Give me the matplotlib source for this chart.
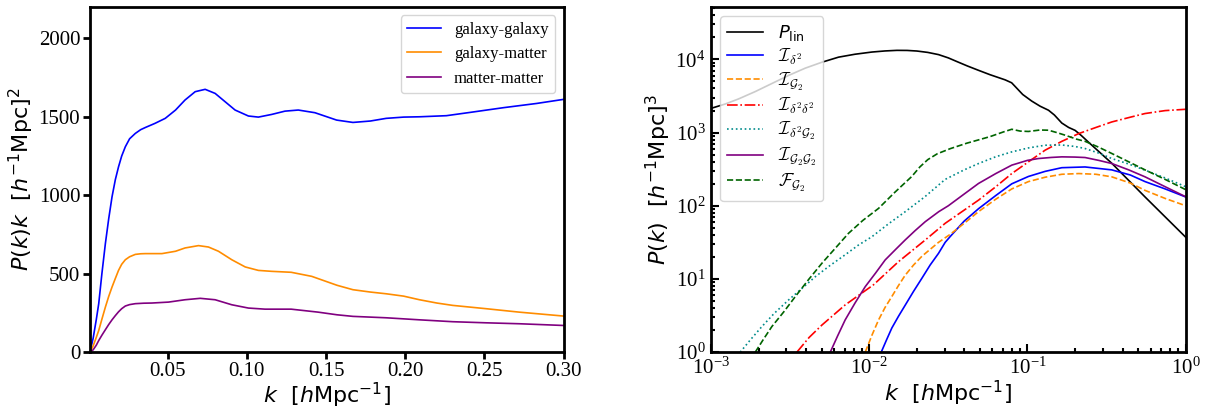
import numpy as np
import matplotlib
matplotlib.use("Agg")
import matplotlib.pyplot as plt

plt.rcParams['font.family'] = 'serif'
plt.rcParams['font.serif'] = ['Liberation Serif', 'DejaVu Serif']
plt.rcParams['mathtext.fontset'] = 'dejavusans'

# left panel: P(k)k, k in h/Mpc
k_gg = [0.001, 0.003, 0.005, 0.0065, 0.0085, 0.0107, 0.0128, 0.0149, 0.017, 0.019,
        0.021, 0.0233, 0.026, 0.0296, 0.033, 0.036, 0.042, 0.0485, 0.055, 0.061,
        0.0674, 0.0737, 0.080, 0.0863, 0.0926, 0.101, 0.1073, 0.1157, 0.1241, 0.1325,
        0.143, 0.1567, 0.167, 0.178, 0.188, 0.199, 0.209, 0.226, 0.241, 0.262,
        0.283, 0.30]
pk_gg = [0, 90, 210, 309, 500, 692, 850, 990, 1100, 1181,
         1250, 1309, 1360, 1394, 1418, 1432, 1458, 1490, 1543, 1607,
         1660, 1675, 1649, 1596, 1543, 1505, 1498, 1515, 1536, 1543,
         1526, 1479, 1464, 1473, 1490, 1498, 1500, 1507, 1528, 1558,
         1585, 1611]

k_gm = [0.001, 0.003, 0.005, 0.0065, 0.0085, 0.0107, 0.0128, 0.0149, 0.017, 0.019,
        0.021, 0.0233, 0.026, 0.0296, 0.033, 0.036, 0.0464, 0.055, 0.061, 0.0695,
        0.0758, 0.0821, 0.0905, 0.099, 0.1073, 0.1157, 0.128, 0.141, 0.157, 0.167,
        0.178, 0.188, 0.199, 0.209, 0.22, 0.23, 0.251, 0.272, 0.30]
pk_gm = [0, 40, 95, 138, 210, 287, 355, 415, 470, 521,
         560, 589, 608, 623, 627, 628, 628, 643, 664, 679,
         670, 643, 589, 543, 521, 515, 509, 483, 426, 398,
         383, 372, 357, 334, 313, 298, 277, 255, 230]

k_mm = [0.001, 0.003, 0.005, 0.0065, 0.0085, 0.0107, 0.0128, 0.0149, 0.017, 0.019,
        0.021, 0.0233, 0.026, 0.0296, 0.035, 0.040, 0.0506, 0.061, 0.0706, 0.080,
        0.0905, 0.101, 0.1115, 0.128, 0.145, 0.157, 0.167, 0.188, 0.209, 0.23,
        0.251, 0.272, 0.30]
pk_mm = [0, 15, 45, 74, 108, 143, 176, 206, 233, 257,
         277, 294, 303, 309, 312, 313, 319, 334, 343, 334,
         302, 281, 274, 274, 255, 238, 228, 219, 206, 194,
         187, 181, 170]

# right panel, read as log10(k), log10(P)
lk_lin = [-3.0, -2.91, -2.825, -2.72, -2.615, -2.51, -2.404, -2.3, -2.194, -2.09,
          -1.983, -1.9, -1.825, -1.76, -1.699, -1.63, -1.562, -1.5, -1.446, -1.38,
          -1.309, -1.236, -1.141, -1.10, -1.078, -1.03, -0.973, -0.920, -0.867, -0.83,
          -0.783, -0.74, -0.699, -0.66, -0.615, -0.467, -0.257, 0.0]
lp_lin = [3.33, 3.39, 3.46, 3.56, 3.67, 3.78, 3.88, 3.96, 4.03, 4.07,
          4.10, 4.115, 4.123, 4.122, 4.114, 4.095, 4.065, 4.02, 3.97, 3.91,
          3.85, 3.79, 3.72, 3.68, 3.63, 3.52, 3.43, 3.36, 3.305, 3.24,
          3.13, 3.07, 3.03, 2.96, 2.87, 2.58, 2.12, 1.57]

lk_d2 = [-1.924, -1.89, -1.857, -1.815, -1.773, -1.72, -1.667, -1.615, -1.562, -1.52,
         -1.488, -1.40, -1.309, -1.20, -1.099, -0.994, -0.888, -0.783, -0.636, -0.467,
         -0.35, -0.257, -0.13, 0.0]
lp_d2 = [0.0, 0.17, 0.33, 0.49, 0.64, 0.83, 1.01, 1.19, 1.35, 1.50,
         1.58, 1.79, 1.96, 2.14, 2.30, 2.40, 2.47, 2.52, 2.53, 2.49,
         2.42, 2.33, 2.23, 2.12]

lk_g2 = [-2.025, -1.983, -1.941, -1.90, -1.857, -1.815, -1.773, -1.72, -1.667, -1.562,
         -1.488, -1.40, -1.309, -1.20, -1.099, -0.994, -0.888, -0.783, -0.676, -0.567,
         -0.467, -0.35, -0.257, -0.13, 0.0]
lp_g2 = [0.0, 0.23, 0.44, 0.61, 0.76, 0.91, 1.05, 1.19, 1.31, 1.50,
         1.61, 1.76, 1.92, 2.09, 2.23, 2.33, 2.39, 2.43, 2.44, 2.43,
         2.395, 2.31, 2.21, 2.10, 2.0]

lk_d2d2 = [-2.457, -2.38, -2.299, -2.152, -1.973, -1.815, -1.646, -1.52, -1.309, -1.2,
           -1.099, -0.994, -0.888, -0.783, -0.676, -0.567, -0.467, -0.35, -0.257, -0.13,
           0.0]
lp_d2d2 = [0.0, 0.2, 0.37, 0.645, 0.92, 1.236, 1.532, 1.76, 2.077, 2.26,
           2.44, 2.60, 2.76, 2.88, 2.986, 3.07, 3.145, 3.21, 3.26, 3.30,
           3.318]

lk_d2g2 = [-2.815, -2.75, -2.678, -2.6, -2.509, -2.42, -2.341, -2.25, -2.152, -2.07,
           -1.983, -1.88, -1.773, -1.65, -1.52, -1.40, -1.309, -1.2, -1.099, -0.994,
           -0.888, -0.783, -0.70, -0.636, -0.55, -0.467, -0.36, -0.257, -0.13, 0.0]
lp_d2g2 = [0.0, 0.17, 0.35, 0.53, 0.714, 0.88, 1.03, 1.18, 1.33, 1.46,
           1.577, 1.75, 1.918, 2.12, 2.36, 2.49, 2.577, 2.67, 2.736, 2.79,
           2.827, 2.83, 2.81, 2.782, 2.72, 2.645, 2.57, 2.486, 2.38, 2.26]

lk_g2g2 = [-2.246, -2.20, -2.152, -2.09, -2.025, -1.96, -1.899, -1.83, -1.773, -1.71,
           -1.646, -1.56, -1.5, -1.40, -1.309, -1.2, -1.099, -1.0, -0.931, -0.85,
           -0.783, -0.70, -0.636, -0.55, -0.467, -0.36, -0.257, -0.13, 0.0]
lp_g2g2 = [0.0, 0.22, 0.44, 0.67, 0.895, 1.08, 1.26, 1.41, 1.532, 1.66,
           1.782, 1.92, 2.0, 2.16, 2.305, 2.44, 2.555, 2.62, 2.645, 2.66,
           2.668, 2.665, 2.659, 2.62, 2.577, 2.49, 2.395, 2.26, 2.123]

lk_fg2 = [-2.72, -2.67, -2.615, -2.54, -2.467, -2.38, -2.299, -2.21, -2.131, -2.04,
          -1.941, -1.84, -1.731, -1.68, -1.63, -1.57, -1.488, -1.383, -1.309, -1.236,
          -1.15, -1.099, -1.046, -0.994, -0.92, -0.867, -0.815, -0.762, -0.69, -0.636,
          -0.55, -0.467, -0.36, -0.257, -0.13, 0.0]
lp_fg2 = [0.0, 0.17, 0.35, 0.55, 0.759, 1.0, 1.214, 1.43, 1.623, 1.80,
          1.964, 2.18, 2.40, 2.53, 2.63, 2.71, 2.78, 2.855, 2.90, 2.945,
          3.01, 3.045, 3.02, 3.015, 3.035, 3.032, 3.0, 2.964, 2.91, 2.88,
          2.80, 2.714, 2.60, 2.49, 2.36, 2.22]

fig = plt.figure(figsize=(12.05, 4.09), dpi=100)
ax1 = fig.add_axes([0.0747, 0.139, 0.393, 0.844])
ax2 = fig.add_axes([0.590, 0.139, 0.394, 0.844])

lw = 1.2
ax1.plot(k_gg, pk_gg, color='blue', lw=lw, label='galaxy-galaxy')
ax1.plot(k_gm, pk_gm, color='darkorange', lw=lw, label='galaxy-matter')
ax1.plot(k_mm, pk_mm, color='purple', lw=lw, label='matter-matter')
ax1.set_xlim(0.001, 0.30)
ax1.set_ylim(0, 2200)
ax1.set_xticks([0.05, 0.10, 0.15, 0.20, 0.25, 0.30])
ax1.set_xticklabels(['0.05', '0.10', '0.15', '0.20', '0.25', '0.30'])
ax1.set_yticks([0, 500, 1000, 1500, 2000])
ax1.set_xlabel(r'$k\ \ [h{\rm Mpc}^{-1}]$', fontsize=16, labelpad=0)
ax1.set_ylabel(r'$P(k)k\ \ [h^{-1}{\rm Mpc}]^2$', fontsize=16, labelpad=2)
ax1.tick_params(labelsize=15, width=2, length=5, pad=2)
ax1.legend(loc='upper right', fontsize=12)

def pw(a):
    return 10**np.array(a)

ax2.plot(pw(lk_lin), pw(lp_lin), color='black', lw=lw, label=r'$P_{\rm lin}$')
ax2.plot(pw(lk_d2), pw(lp_d2), color='blue', lw=lw, label=r'$\mathcal{I}_{\delta^2}$')
ax2.plot(pw(lk_g2), pw(lp_g2), color='darkorange', lw=lw, ls='--', label=r'$\mathcal{I}_{\mathcal{G}_2}$')
ax2.plot(pw(lk_d2d2), pw(lp_d2d2), color='red', lw=lw, ls='-.', label=r'$\mathcal{I}_{\delta^2\delta^2}$')
ax2.plot(pw(lk_d2g2), pw(lp_d2g2), color='darkcyan', lw=lw, ls=':', label=r'$\mathcal{I}_{\delta^2\mathcal{G}_2}$')
ax2.plot(pw(lk_g2g2), pw(lp_g2g2), color='purple', lw=lw, label=r'$\mathcal{I}_{\mathcal{G}_2\mathcal{G}_2}$')
ax2.plot(pw(lk_fg2), pw(lp_fg2), color='darkgreen', lw=lw, ls='--', label=r'$\mathcal{F}_{\mathcal{G}_2}$')
ax2.set_xscale('log')
ax2.set_yscale('log')
ax2.set_xlim(1e-3, 1)
ax2.set_ylim(1, 5.2e4)
ax2.set_xlabel(r'$k\ \ [h{\rm Mpc}^{-1}]$', fontsize=16, labelpad=0)
ax2.set_ylabel(r'$P(k)\ \ [h^{-1}{\rm Mpc}]^3$', fontsize=16, labelpad=2)
ax2.tick_params(which='both', direction='in', labelsize=15, width=1.5, pad=4)
ax2.tick_params(which='major', length=6)
ax2.tick_params(which='minor', length=3)
leg = ax2.legend(loc='upper left', fontsize=13, labelspacing=0.2)
for t in leg.get_texts()[1:]:
    t.set_math_fontfamily('cm')

for ax in (ax1, ax2):
    for sp in ax.spines.values():
        sp.set_linewidth(2)

fig.savefig('out.png', dpi=100)
